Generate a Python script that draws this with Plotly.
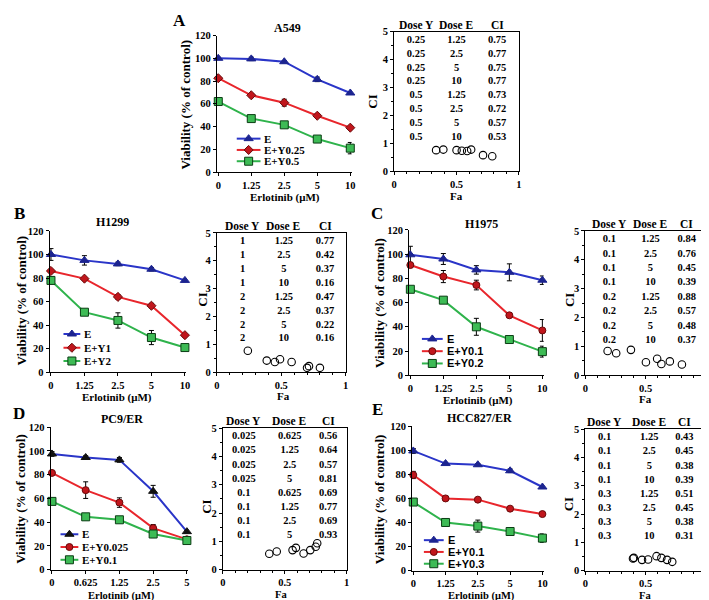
import plotly.graph_objects as go

W, H = 709, 600

def px(x):
    return x / W

def py(y):
    return 1 - y / H

# ---------------- data ----------------
DOSES_STD = ["0", "1.25", "2.5", "5", "10"]
DOSES_D = ["0", "0.625", "1.25", "2.5", "5"]

# Panel A (A549)
A_E = [100, 99.5, 97, 81.5, 69.5]
A_E_err = [1, 1.5, 1, 2, 1]
A_Y1 = [82.5, 67.5, 61, 49.5, 39]
A_Y1_err = [1, 1.5, 3, 1.5, 1]
A_Y2 = [62, 47, 41.5, 29, 21]
A_Y2_err = [1, 2, 1.5, 1, 5]
A_names = ["E", "E+Y0.25", "E+Y0.5"]
A_doseY = ["0.25", "0.25", "0.25", "0.25", "0.5", "0.5", "0.5", "0.5"]
A_doseE = ["1.25", "2.5", "5", "10", "1.25", "2.5", "5", "10"]
A_CI = [0.75, 0.77, 0.75, 0.77, 0.73, 0.72, 0.57, 0.53]
A_Fa = [0.336, 0.394, 0.5, 0.617, 0.542, 0.585, 0.712, 0.786]

# Panel B (H1299)
B_E = [100, 95, 92, 87.5, 78]
B_E_err = [5, 4, 1.5, 1.5, 1]
B_Y1 = [86, 79.5, 64, 56.5, 31.5]
B_Y1_err = [1, 1, 2, 2, 1.5]
B_Y2 = [78, 51, 44, 29.5, 21]
B_Y2_err = [3, 1, 6.5, 6, 1]
B_names = ["E", "E+Y1", "E+Y2"]
B_doseY = ["1", "1", "1", "1", "2", "2", "2", "2"]
B_doseE = ["1.25", "2.5", "5", "10", "1.25", "2.5", "5", "10"]
B_CI = [0.77, 0.42, 0.37, 0.16, 0.47, 0.37, 0.22, 0.16]
B_Fa = [0.24, 0.387, 0.45, 0.70, 0.49, 0.58, 0.715, 0.80]

# Panel C (H1975)
C_E = [99.5, 96, 87, 85, 78.5]
C_E_err = [7, 4.5, 3.5, 7, 3.5]
C_Y1 = [91, 81.5, 74.5, 49.5, 37]
C_Y1_err = [1, 5, 4, 1.5, 9]
C_Y2 = [71, 62, 40, 29.5, 19.5]
C_Y2_err = [1, 1, 7, 1, 4.5]
C_names = ["E", "E+Y0.1", "E+Y0.2"]
C_doseY = ["0.1", "0.1", "0.1", "0.1", "0.2", "0.2", "0.2", "0.2"]
C_doseE = ["1.25", "2.5", "5", "10", "1.25", "2.5", "5", "10"]
C_CI = [0.84, 0.76, 0.45, 0.39, 0.88, 0.57, 0.48, 0.37]
C_Fa = [0.185, 0.256, 0.502, 0.63, 0.378, 0.595, 0.70, 0.80]

# Panel D (PC9/ER)
D_E = [97.5, 94.5, 92.5, 66, 32]
D_E_err = [2, 1.5, 2, 5, 1]
D_Y1 = [81.5, 67, 56.5, 35, 25.5]
D_Y1_err = [1, 7, 4, 3, 1]
D_Y2 = [57.5, 44.5, 42, 30, 24.5]
D_Y2_err = [1, 1, 1, 3, 1]
D_names = ["E", "E+Y0.025", "E+Y0.1"]
D_doseY = ["0.025", "0.025", "0.025", "0.025", "0.1", "0.1", "0.1", "0.1"]
D_doseE = ["0.625", "1.25", "2.5", "5", "0.625", "1.25", "2.5", "5"]
D_CI = [0.56, 0.64, 0.57, 0.81, 0.69, 0.77, 0.69, 0.93]
D_Fa = [0.375, 0.435, 0.652, 0.75, 0.563, 0.59, 0.706, 0.762]

# Panel E (HCC827/ER)
E_E = [99.5, 89, 88, 83, 69.5]
E_E_err = [2, 1, 1, 1.5, 1]
E_Y1 = [79.5, 60, 59, 51.5, 47]
E_Y1_err = [3, 1, 1.5, 1, 1]
E_Y2 = [57, 40, 37, 32.5, 27]
E_Y2_err = [2, 1.5, 5, 1.5, 3.5]
E_names = ["E", "E+Y0.1", "E+Y0.3"]
E_doseY = ["0.1", "0.1", "0.1", "0.1", "0.3", "0.3", "0.3", "0.3"]
E_doseE = ["1.25", "2.5", "5", "10", "1.25", "2.5", "5", "10"]
E_CI = [0.43, 0.45, 0.38, 0.39, 0.51, 0.45, 0.38, 0.31]
E_Fa = [0.395, 0.402, 0.47, 0.52, 0.59, 0.63, 0.677, 0.72]

TABLE_HEAD = ["Dose Y", "Dose E", "CI"]

# ---------------- styling / layout ----------------
SERIF = "Liberation Serif"
SANS = "Liberation Sans"
BLUE_LINE = "#2a35c8"
BLUE_MK = "#1c2490"
RED_LINE = "#e8262c"
RED_MK = "#c0161c"
RED_EDGE = "#6a0a0a"
GREEN_LINE = "#2fb34c"
GREEN_MK = "#3dbb55"
GREEN_EDGE = "#0b3d14"

panels = [
    dict(letter="A", title="A549", doses=DOSES_STD,
         series=[(A_E, A_E_err), (A_Y1, A_Y1_err), (A_Y2, A_Y2_err)], names=A_names,
         doseY=A_doseY, doseE=A_doseE, ci=A_CI, fa=A_Fa,
         line_box=(208, 344, 23, 162), ci_box=(387, 513, 19, 161),
         letter_pos=(170, 8), title_pos=(279, 15), ytitle_pos=(176, 93), xtitle_pos=(277, 188),
         citit_pos=(365, 90), fatit_pos=(450, 186), cols=[0.175, 0.5, 0.825],
         legend=(228, 252, [128, 139.5, 151]), legfont=SERIF, e_mk=BLUE_MK, red_sym="diamond"),
    dict(letter="B", title="H1299", doses=DOSES_STD,
         series=[(B_E, B_E_err), (B_Y1, B_Y1_err), (B_Y2, B_Y2_err)], names=B_names,
         doseY=B_doseY, doseE=B_doseE, ci=B_CI, fa=B_Fa,
         line_box=(39, 177, 222, 366), ci_box=(208, 338, 224, 366),
         letter_pos=(9, 204), title_pos=(103, 213), ytitle_pos=(11, 293), xtitle_pos=(107, 392),
         citit_pos=(194, 292), fatit_pos=(275, 390), cols=[0.2, 0.52, 0.84],
         legend=(53, 70, [327, 341, 354.5]), legfont=SERIF, e_mk=BLUE_MK, red_sym="diamond"),
    dict(letter="C", title="H1975", doses=DOSES_STD,
         series=[(C_E, C_E_err), (C_Y1, C_Y1_err), (C_Y2, C_Y2_err)], names=C_names,
         doseY=C_doseY, doseE=C_doseE, ci=C_CI, fa=C_Fa,
         line_box=(402, 538, 221, 369), ci_box=(580, 702, 222, 369),
         letter_pos=(370, 204), title_pos=(475, 215), ytitle_pos=(372, 295), xtitle_pos=(472, 395),
         citit_pos=(564, 292), fatit_pos=(641, 393), cols=[0.2, 0.54, 0.84],
         legend=(415, 436, [332, 344.5, 357]), legfont=SANS, e_mk=BLUE_MK, red_sym="circle"),
    dict(letter="D", title="PC9/ER", doses=DOSES_D,
         series=[(D_E, D_E_err), (D_Y1, D_Y1_err), (D_Y2, D_Y2_err)], names=D_names,
         doseY=D_doseY, doseE=D_doseE, ci=D_CI, fa=D_Fa,
         line_box=(40, 179, 422, 567), ci_box=(214, 339, 423, 567),
         letter_pos=(8, 408), title_pos=(112, 414), ytitle_pos=(10, 495), xtitle_pos=(112, 593.5),
         citit_pos=(198, 503), fatit_pos=(273, 592), cols=[0.17, 0.54, 0.85],
         legend=(50, 68, [531, 544, 557]), legfont=SERIF, e_mk="#111111", red_sym="circle"),
    dict(letter="E", title="HCC827/ER", doses=DOSES_STD,
         series=[(E_E, E_E_err), (E_Y1, E_Y1_err), (E_Y2, E_Y2_err)], names=E_names,
         doseY=E_doseY, doseE=E_doseE, ci=E_CI, fa=E_Fa,
         line_box=(405, 538, 421, 568), ci_box=(580, 702, 424, 568),
         letter_pos=(370, 404), title_pos=(473, 413), ytitle_pos=(373, 495), xtitle_pos=(475, 593.5),
         citit_pos=(563, 500), fatit_pos=(640, 593), cols=[0.16, 0.53, 0.82],
         legend=(417, 437, [537, 549, 561]), legfont=SANS, e_mk=BLUE_MK, red_sym="circle"),
]

fig = go.Figure()
layout = dict(
    width=W, height=H, margin=dict(l=0, r=0, t=0, b=0),
    paper_bgcolor="white", plot_bgcolor="rgba(0,0,0,0)",
    font=dict(family=SERIF, size=10, color="black", weight="bold"),
    showlegend=False, hovermode=False,
)
annotations = []

axis_common = dict(showgrid=False, zeroline=False, showline=True, linecolor="black",
                   linewidth=1, ticks="outside", tickcolor="black", ticklen=3,
                   tickfont=dict(family=SERIF, size=10.5, color="black", weight="bold"))

def ann(x, y, text, size=11, angle=0, family=SERIF, xanchor="center"):
    annotations.append(dict(x=px(x), y=py(y), xref="paper", yref="paper", text=text,
                            showarrow=False, textangle=angle, xanchor=xanchor, yanchor="middle",
                            font=dict(family=family, size=size, color="black", weight="bold")))

def mk_styles(p):
    return [
        dict(line=BLUE_LINE, sym="triangle-up", fill=p["e_mk"], edge=p["e_mk"], size=8),
        dict(line=RED_LINE, sym=p["red_sym"], fill=RED_MK, edge=RED_EDGE, size=7),
        dict(line=GREEN_LINE, sym="square", fill=GREEN_MK, edge=GREEN_EDGE, size=8),
    ]

n = 0
for p in panels:
    # ---- line chart axis
    n += 1
    xl, xr, yt, yb = p["line_box"]
    xa, ya = f"x{n}", f"y{n}"
    layout[f"xaxis{n}"] = dict(axis_common, domain=[px(xl), px(xr)], anchor=ya,
                               range=[-0.04, 4.04], tickvals=[0, 1, 2, 3, 4], ticktext=p["doses"])
    layout[f"yaxis{n}"] = dict(axis_common, domain=[py(yb), py(yt)], anchor=xa,
                               range=[0, 120], tickvals=[0, 20, 40, 60, 80, 100, 120])
    xs = list(range(len(p["doses"])))
    for (vals, errs), st in zip(p["series"], mk_styles(p)):
        fig.add_trace(go.Scatter(
            x=xs, y=vals, xaxis=xa, yaxis=ya, mode="lines+markers", cliponaxis=False,
            line=dict(color=st["line"], width=2),
            marker=dict(symbol=st["sym"], size=st["size"], color=st["fill"],
                        line=dict(color=st["edge"], width=1)),
            error_y=dict(type="data", array=errs, visible=True, color="black",
                         thickness=1, width=2.5)))
    # ---- CI chart axis
    n += 1
    cl, cr, ct, cb = p["ci_box"]
    xa2, ya2 = f"x{n}", f"y{n}"
    layout[f"xaxis{n}"] = dict(axis_common, domain=[px(cl), px(cr)], anchor=ya2, mirror=True,
                               range=[0, 1], tickvals=[0, 0.5, 1], ticktext=["0", "0.5", "1"],
                               minor=dict(dtick=0.1, ticks="outside", ticklen=2, tickcolor="black"))
    layout[f"yaxis{n}"] = dict(axis_common, domain=[py(cb), py(ct)], anchor=xa2, mirror=True,
                               range=[0, 5], tickvals=[0, 1, 2, 3, 4, 5],
                               minor=dict(dtick=0.5, ticks="outside", ticklen=2, tickcolor="black"))
    fig.add_trace(go.Scatter(
        x=p["fa"], y=p["ci"], xaxis=xa2, yaxis=ya2, mode="markers", cliponaxis=False,
        marker=dict(symbol="circle-open", size=7.5, color="black", line=dict(width=1.1))))
    rows_y = [4.7 - 0.5 * i for i in range(len(p["ci"]))]
    cols = p["cols"]
    for cx, col in zip(cols, [p["doseY"], p["doseE"], [f"{v:.2f}" for v in p["ci"]]]):
        fig.add_trace(go.Scatter(
            x=[cx] * len(col), y=rows_y, xaxis=xa2, yaxis=ya2, mode="text", text=col,
            cliponaxis=False,
            textfont=dict(family=SERIF, size=10.5, color="black", weight="bold")))
    # table header just above the CI frame (paper coords: outside the axis range)
    head_y = ct - 0.25 * (cb - ct) / 5.0
    for cx, head in zip(cols, TABLE_HEAD):
        ann(cl + cx * (cr - cl), head_y, head, size=11.5)

    # ---- texts
    bottom = p["letter"] in ("D", "E")
    ann(*p["letter_pos"], p["letter"], size=17)
    ann(*p["title_pos"], p["title"], size=12)
    ann(*p["ytitle_pos"], "Viability (% of control)", size=13, angle=-90)
    ann(*p["xtitle_pos"], "Erlotinib (μM)", size=10.5 if bottom else 11)
    ann(*p["citit_pos"], "CI", size=13, angle=-90)
    ann(*p["fatit_pos"], "Fa", size=10.5 if bottom else 11)

# ---- legend overlay axis (pixel coordinates)
n += 1
layout[f"xaxis{n}"] = dict(domain=[0, 1], range=[0, W], visible=False, anchor=f"y{n}")
layout[f"yaxis{n}"] = dict(domain=[0, 1], range=[H, 0], visible=False, anchor=f"x{n}")
for p in panels:
    x0, x1, ys = p["legend"]
    for name, yy, st in zip(p["names"], ys, mk_styles(p)):
        fig.add_trace(go.Scatter(x=[x0, x1], y=[yy, yy], xaxis=f"x{n}", yaxis=f"y{n}",
                                 mode="lines", line=dict(color=st["line"], width=2),
                                 cliponaxis=False))
        fig.add_trace(go.Scatter(x=[(x0 + x1) / 2], y=[yy], xaxis=f"x{n}", yaxis=f"y{n}",
                                 mode="markers", cliponaxis=False,
                                 marker=dict(symbol=st["sym"], size=st["size"], color=st["fill"],
                                             line=dict(color=st["edge"], width=1))))
        ann(x1 + 2, yy, name, size=11, family=p["legfont"], xanchor="left")

layout["annotations"] = annotations
fig.update_layout(**layout)
fig.write_html("out.html")
